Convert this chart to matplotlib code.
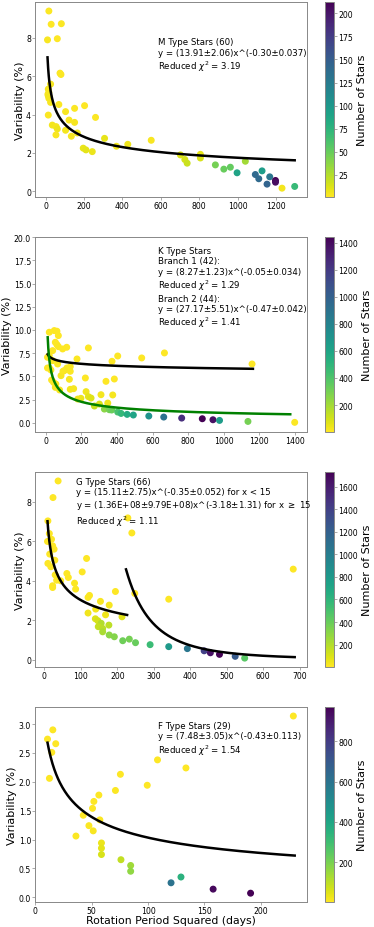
import numpy as np
from matplotlib import pyplot as plt

# M type stars
m_x = [17, 29, 82, 10, 61, 75, 80, 26, 14, 17, 14, 17, 26, 14, 12, 20, 69, 104, 151, 203, 260, 122, 151,
       35, 55, 61, 54, 104, 134, 165, 196, 210, 243, 307, 369, 428, 550, 702, 725, 737, 806, 806,
       884, 928, 962, 997, 1040, 1092, 1110, 1127, 1167, 1153, 1197, 1197, 1231, 1297]
m_y = [9.38, 8.69, 8.72, 7.88, 7.94, 6.15, 6.08, 5.58, 5.32, 5.15, 4.97, 4.84, 4.63, 3.97, 5.05, 4.9, 4.52, 4.15,
       4.32, 4.46, 3.85, 3.71, 3.59, 3.45, 3.37, 3.25, 2.94, 3.18, 2.87, 3.04, 2.25, 2.16, 2.07, 2.76, 2.35,
       2.45, 2.66, 1.90, 1.66, 1.47, 1.93, 1.74,
       1.38, 1.16, 1.26, 0.97, 1.57, 0.88, 0.66, 1.07, 0.76, 0.38, 0.57, 0.48, 0.17, 0.26]
m_n = [2, 1, 2, 3, 1, 2, 2, 4, 5, 3, 6, 4, 3, 2, 4, 5, 2, 3, 2, 1, 2, 3, 4,
       5, 4, 6, 3, 5, 4, 6, 8, 10, 7, 9, 5, 6, 3, 12, 15, 18, 10, 14,
       45, 50, 52, 90, 30, 140, 140, 95, 130, 145, 212, 205, 5, 70]

# K type stars
k_x = [19, 47, 62, 70, 53, 62, 70, 38, 19, 9, 19, 28, 9, 38, 66, 94, 117, 239, 175, 404, 372, 539, 667, 1160,
       118, 137, 103, 85, 32, 43, 56, 53, 77, 96, 132, 137, 137, 156, 222, 226, 338, 385, 376, 310, 348,
       197, 179, 239, 254, 301, 273,
       329, 357, 370, 404, 423, 457, 492, 579, 663, 764, 880, 940, 977, 1137, 1400]
k_y = [9.75, 9.93, 9.86, 9.39, 8.67, 8.42, 8.2, 7.77, 7.23, 7.05, 5.9, 5.68, 5.9, 6.69, 6.33, 7.95, 8.13, 8.06,
       6.87, 7.19, 6.62, 6.98, 7.52, 6.33,
       5.9, 6.04, 5.61, 5.07, 4.6, 4.35, 4.17, 3.81, 3.53, 5.54, 4.68, 5.54, 3.6, 3.67, 4.82, 3.35, 4.46,
       4.71, 2.99, 3.02, 2.12, 2.63, 2.55, 2.81, 2.66, 2.01, 1.8,
       1.47, 1.4, 1.37, 1.15, 1.0, 0.9, 0.83, 0.72, 0.61, 0.5, 0.43, 0.32, 0.25, 0.14, 0.04]
k_n = [3, 2, 4, 5, 6, 3, 8, 4, 2, 1, 5, 7, 3, 9, 10, 6, 4, 2, 8, 3, 5, 2, 1, 1,
       12, 10, 14, 16, 6, 9, 11, 18, 20, 8, 15, 12, 25, 22, 5, 30, 6, 4, 20, 28, 40,
       45, 38, 60, 70, 90, 120,
       250, 300, 330, 420, 480, 560, 600, 700, 900, 1250, 1440, 1380, 650, 300, 10]

# G type stars
g_x = [38, 24, 10, 14, 9, 20, 23, 27, 15, 29, 10, 18, 30, 34, 23, 23, 45, 62, 66, 83, 86, 104, 116,
       120, 124, 120, 141, 154, 195, 178, 168, 140, 147, 156, 148, 160, 160, 177, 213, 229, 240, 248,
       341, 682,
       178, 192, 215, 233, 250, 290, 341, 392, 438, 455, 480, 523, 549]
g_y = [9.04, 8.2, 7.02, 6.38, 5.98, 6.09, 5.76, 5.59, 5.34, 5.03, 4.87, 4.7, 4.29, 4.02, 3.74, 3.65, 3.99,
       4.36, 4.16, 3.87, 3.57, 4.44, 5.12, 3.15, 3.25, 2.36, 2.56, 2.95, 3.45, 2.76, 2.27, 2.07, 1.97,
       1.84, 1.67, 1.58, 1.41, 1.75, 2.17, 7.17, 6.41, 3.35, 3.06, 4.58,
       1.25, 1.16, 0.96, 1.04, 0.86, 0.76, 0.66, 0.56, 0.45, 0.35, 0.27, 0.17, 0.08]
g_n = [2, 3, 1, 4, 2, 5, 3, 6, 4, 7, 2, 5, 8, 6, 9, 4, 10, 3, 5, 8, 12, 2, 1,
       14, 10, 40, 30, 20, 6, 25, 45, 90, 110, 200, 150, 180, 220, 170, 80, 1, 1, 4,
       3, 1,
       300, 320, 380, 360, 400, 550, 800, 1050, 1400, 1650, 1730, 1250, 450]

# F type stars
f_x = [10.9, 15.6, 14.7, 18.2, 12.6, 36.1, 42.6, 47.6, 50.8, 52, 56.4, 57.3, 51.4, 58.7, 58.7, 58.7,
       71.1, 75.5, 76, 84.6, 84.6, 99.3, 108.4, 133.6, 228.8, 120.4, 129.2, 157.7, 190.9]
f_y = [2.74, 2.9, 2.51, 2.66, 2.06, 1.06, 1.42, 1.24, 1.54, 1.66, 1.77, 1.34, 1.15, 0.94, 0.85, 0.74,
       1.85, 2.13, 0.65, 0.55, 0.45, 1.94, 2.38, 2.24, 3.14, 0.25, 0.35, 0.14, 0.07]
f_n = [2, 3, 1, 4, 2, 5, 3, 6, 4, 2, 3, 8, 10, 30, 40, 60,
       5, 3, 90, 140, 160, 2, 1, 2, 1, 600, 350, 950, 970]

# power law fits: (amplitude, exponent, x start, x end)
m_fit = (13.91, -0.30, 10, 1297)
k_fit1 = (8.27, -0.05, 10, 1165)
k_fit2 = (27.17, -0.47, 10, 1375)
g_fit1 = (15.11, -0.35, 9, 227)
g_fit2 = (1.36e8, -3.18, 224, 686)
f_fit = (7.48, -0.43, 10.9, 230)

m_text = 'M Type Stars (60)\ny = (13.91±2.06)x^(-0.30±0.037)\nReduced $\\chi^2$ = 3.19'
k_text = ('K Type Stars\nBranch 1 (42):\ny = (8.27±1.23)x^(-0.05±0.034)\nReduced $\\chi^2$ = 1.29\n'
          'Branch 2 (44):\ny = (27.17±5.51)x^(-0.47±0.042)\nReduced $\\chi^2$ = 1.41')
g_text = ('G Type Stars (66)\ny = (15.11±2.75)x^(-0.35±0.052) for x < 15\n'
          'y = (1.36E+08±9.79E+08)x^(-3.18±1.31) for x $\\geq$ 15\nReduced $\\chi^2$ = 1.11')
f_text = 'F Type Stars (29)\ny = (7.48±3.05)x^(-0.43±0.113)\nReduced $\\chi^2$ = 1.54'

plt.rcParams['font.family'] = 'DejaVu Sans'
plt.rcParams['mathtext.fontset'] = 'dejavusans'

fig = plt.figure(figsize=(3.74, 9.28), dpi=100)
bottoms = [0.7866, 0.5334, 0.2802, 0.0269]
height = 0.210
gray = '#888888'


def fit_line(ax, fit, color='black'):
    a, b, x0, x1 = fit
    xs = np.linspace(x0, x1, 400)
    ax.plot(xs, a * xs ** b, color=color, lw=1.8)


def panel(i, x, y, n, fits, text, tx, ty):
    ax = fig.add_axes([0.094, bottoms[i], 0.727, height])
    cax = fig.add_axes([0.869, bottoms[i], 0.024, height])
    sc = ax.scatter(x, y, c=n, cmap='viridis_r', s=16, zorder=1)
    for f, col in fits:
        fit_line(ax, f, col)
    ax.text(tx, ty, text, transform=ax.transAxes, va='top', ha='left', fontsize=6.2, linespacing=1.2)
    ax.set_ylabel('Variability (%)', fontsize=8, labelpad=1)
    ax.tick_params(labelsize=5.6, length=2, width=0.5, pad=1, color=gray)
    for sp in ax.spines.values():
        sp.set_color(gray)
        sp.set_linewidth(0.7)
    cb = fig.colorbar(sc, cax=cax)
    cb.set_label('Number of Stars', fontsize=8, labelpad=3)
    cb.ax.tick_params(labelsize=5.6, length=2, width=0.5, pad=1, color=gray)
    cb.outline.set_edgecolor(gray)
    cb.outline.set_linewidth(0.7)
    return ax


ax1 = panel(0, m_x, m_y, m_n, [(m_fit, 'black')], m_text, 0.45, 0.82)
ax2 = panel(1, k_x, k_y, k_n, [(k_fit1, 'black'), (k_fit2, 'green')], k_text, 0.45, 0.955)
ax2.set_ylim(-1, 20)
ax3 = panel(2, g_x, g_y, g_n, [(g_fit1, 'black'), (g_fit2, 'black')], g_text, 0.15, 0.975)
ax4 = panel(3, f_x, f_y, f_n, [(f_fit, 'black')], f_text, 0.45, 0.93)
ax4.set_xlabel('Rotation Period Squared (days)', fontsize=7.8, labelpad=0)

plt.savefig('out.png', dpi=100)
plt.close()
